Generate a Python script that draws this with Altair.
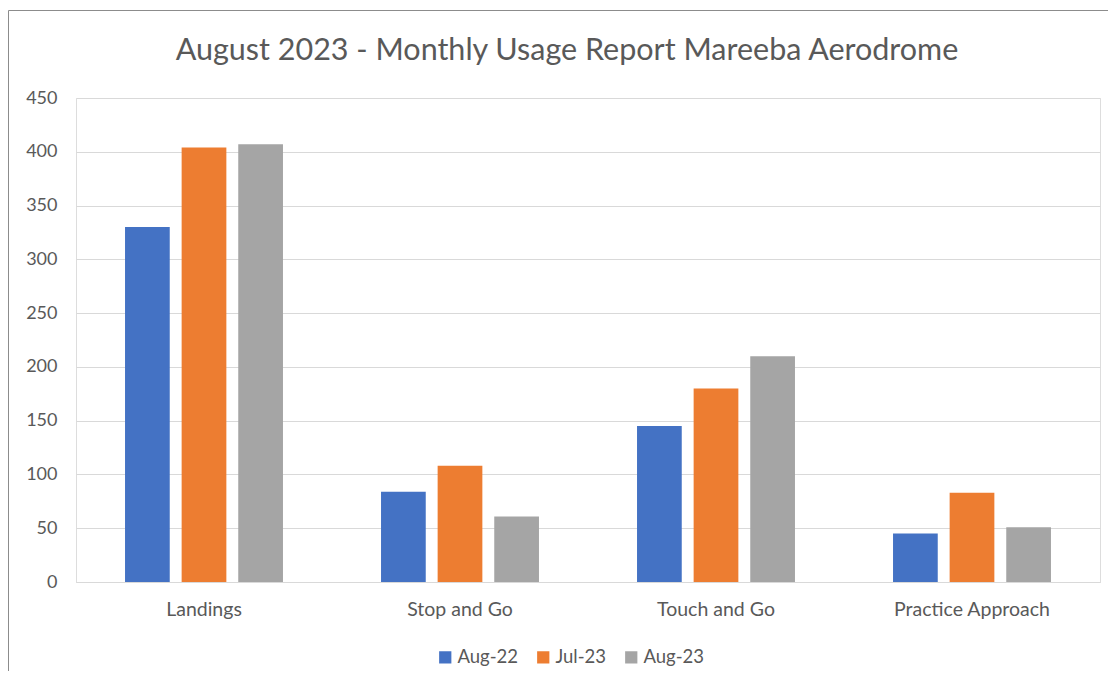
import altair as alt
import pandas as pd

categories = ["Landings", "Stop and Go", "Touch and Go", "Practice Approach"]
series_names = ["Aug-22", "Jul-23", "Aug-23"]
aug22 = [330, 84, 145, 45]
jul23 = [404, 108, 180, 83]
aug23 = [407, 61, 210, 51]
colors = ["#4472C4", "#ED7D31", "#A5A5A5"]
y_ticks = [0, 50, 100, 150, 200, 250, 300, 350, 400, 450]

rows = []
for name, vals in zip(series_names, [aug22, jul23, aug23]):
    for c, v in zip(categories, vals):
        rows.append({"Category": c, "Series": name, "Value": v})
df = pd.DataFrame(rows)

FONT = "Lato"
TXT = "#595959"

bars = alt.Chart(df).mark_bar().encode(
    x=alt.X("Category:N", sort=categories, title=None,
            scale=alt.Scale(paddingInner=0.383, paddingOuter=0.1915),
            axis=alt.Axis(labelAngle=0, domainColor="#D9D9D9", ticks=False,
                          labelFontSize=19.5, labelColor=TXT, labelPadding=18,
                          labelFont=FONT, grid=False)),
    xOffset=alt.XOffset("Series:N", sort=series_names,
                        scale=alt.Scale(paddingInner=0.21, paddingOuter=0)),
    y=alt.Y("Value:Q", title=None,
            scale=alt.Scale(domain=[0, 450], nice=False),
            axis=alt.Axis(values=y_ticks, domain=False, ticks=False,
                          gridColor="#D9D9D9", labelFontSize=18,
                          labelColor=TXT, labelFont=FONT, labelPadding=19)),
    color=alt.Color("Series:N", sort=series_names,
                    scale=alt.Scale(domain=series_names, range=colors),
                    legend=alt.Legend(title=None, orient="none", direction="horizontal",
                                      legendX=360, legendY=550,
                                      symbolType="square", symbolSize=150,
                                      symbolStrokeWidth=0,
                                      labelFontSize=18.5, labelColor=TXT,
                                      labelFont=FONT, columnPadding=15,
                                      labelOffset=3)),
)

frame = alt.Chart(pd.DataFrame({"a": [0]})).mark_rect(
    fill=None, stroke="#8C8C8C", strokeWidth=1, clip=False
).encode(
    x=alt.value(-67.5), y=alt.value(-87.5), x2=alt.value(1060), y2=alt.value(640)
)

chart = alt.layer(frame, bars).properties(
    width=1024, height=484,
    padding={"left": 68, "top": 90, "right": 8, "bottom": 89},
    autosize=alt.AutoSizeParams(type="none"),
    title=alt.TitleParams(
        "August 2023 - Monthly Usage Report Mareeba Aerodrome",
        font=FONT, fontSize=30.5, fontWeight="normal", color=TXT,
        anchor="middle", frame="group", dx=-21, offset=0, dy=56,
    ),
).configure_view(stroke=None).configure(background="white")

chart.save("out.html", embed_options={"renderer": "svg", "actions": False})
